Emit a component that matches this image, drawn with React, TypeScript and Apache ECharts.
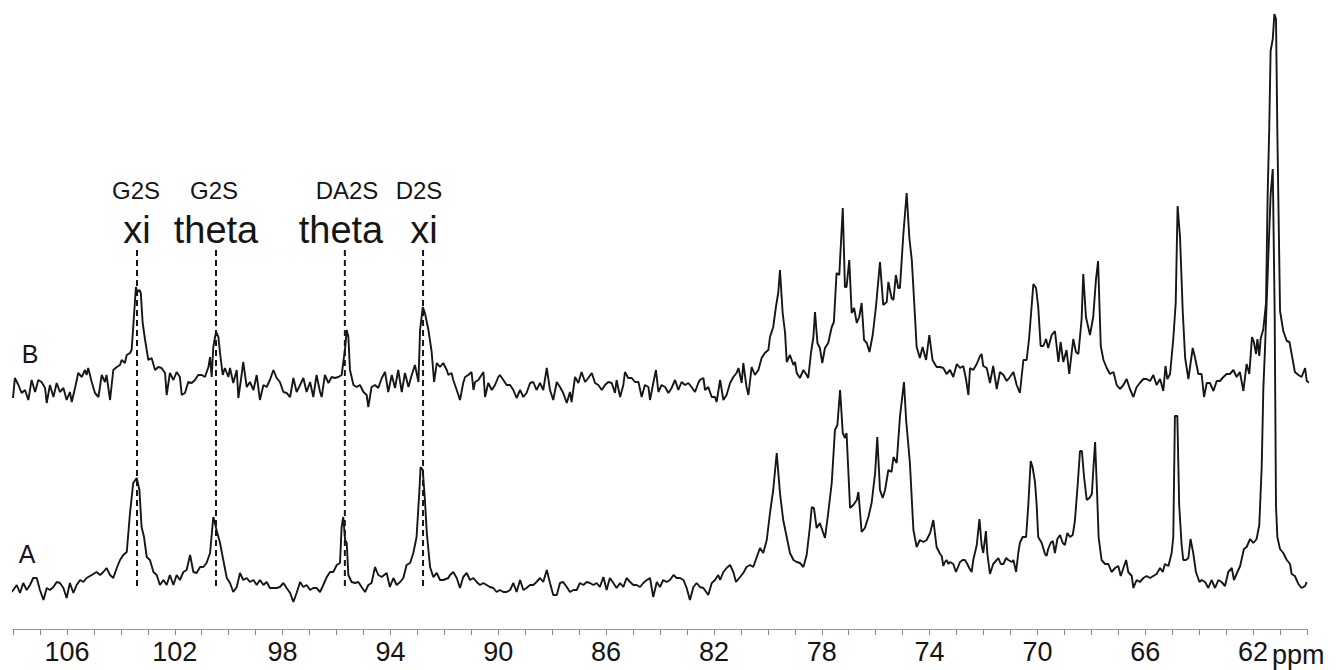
import React, { useEffect, useRef } from 'react';
import * as echarts from 'echarts';

const FONT = "'Liberation Sans', Arial, Helvetica, sans-serif";

// x axis (chemical shift, ppm), reversed
const axisMin = 60;
const axisMax = 108;
const tickLabels = [106, 102, 98, 94, 90, 86, 82, 78, 74, 70, 66, 62];

// Spectrum B (upper trace, stacked above A) : [ppm, intensity]
const traceB: [number, number][] = [
  [108.0,231],[107.93,251],[107.80,244],[107.68,236],[107.555,239],[107.43,229],[107.31,249],[107.18,237],[107.06,249],[106.94,247],[106.81,241],[106.75,226],[106.63,244],[106.50,232],[106.38,246],[106.26,237],[106.13,241],[106.01,229],[105.89,237],[105.82,227],[105.70,241],[105.58,256],[105.45,252],[105.33,259],[105.27,254],[105.21,261],[105.08,247],[104.96,236],[104.83,232],[104.71,254],[104.59,247],[104.53,254],[104.40,229],[104.28,259],[104.15,262],[104.03,264],[103.97,269],[103.85,266],[103.78,274],[103.66,276],[103.60,279],[103.54,302],[103.44,342],[103.39,337],[103.31,339],[103.26,336],[103.19,306],[103.10,289],[102.98,269],[102.86,271],[102.73,259],[102.61,262],[102.49,261],[102.36,256],[102.30,234],[102.18,256],[102.05,249],[101.93,257],[101.81,252],[101.74,234],[101.62,236],[101.50,247],[101.37,246],[101.25,249],[101.13,254],[101.00,254],[100.88,252],[100.75,262],[100.69,272],[100.63,252],[100.57,282],[100.47,297],[100.38,292],[100.32,276],[100.22,254],[100.14,261],[100.01,252],[99.95,261],[99.83,246],[99.70,259],[99.64,231],[99.52,254],[99.46,267],[99.33,242],[99.21,247],[99.08,239],[98.96,254],[98.84,229],[98.71,244],[98.59,242],[98.47,249],[98.34,259],[98.22,251],[98.10,247],[97.97,237],[97.85,236],[97.72,232],[97.60,251],[97.48,237],[97.35,244],[97.23,251],[97.11,237],[96.98,247],[96.86,232],[96.74,254],[96.61,237],[96.55,232],[96.43,254],[96.30,246],[96.18,252],[96.06,251],[95.93,252],[95.81,254],[95.75,266],[95.68,281],[95.62,299],[95.56,292],[95.50,259],[95.37,244],[95.25,242],[95.13,244],[95.00,237],[94.88,234],[94.82,222],[94.70,242],[94.57,244],[94.45,241],[94.32,251],[94.20,257],[94.08,237],[93.95,254],[93.83,241],[93.71,259],[93.58,237],[93.46,256],[93.33,242],[93.21,254],[93.09,264],[92.96,247],[92.90,299],[92.80,322],[92.72,316],[92.59,299],[92.47,277],[92.38,247],[92.28,266],[92.16,262],[92.04,266],[91.91,259],
  [91.85,254],[91.73,256],[91.67,249],[91.54,239],[91.42,229],[91.30,246],[91.23,252],[91.11,254],[90.99,257],[90.92,239],[90.86,247],[90.74,249],[90.62,254],[90.55,257],[90.49,232],[90.37,246],[90.24,239],[90.12,244],[90.00,252],[89.94,254],[89.81,249],[89.69,244],[89.56,244],[89.44,239],[89.32,231],[89.19,239],[89.07,232],[88.95,236],[88.82,246],[88.70,247],[88.58,239],[88.45,246],[88.33,239],[88.20,261],[88.08,239],[87.96,229],[87.83,247],[87.71,242],[87.59,236],[87.46,226],[87.34,237],[87.28,227],[87.15,252],[87.03,246],[86.91,257],[86.78,247],[86.66,251],[86.53,256],[86.41,246],[86.29,244],[86.16,239],[86.04,244],[85.92,247],[85.79,246],[85.67,236],[85.61,249],[85.48,232],[85.36,244],[85.30,257],[85.18,251],[85.05,251],[84.93,247],[84.80,247],[84.68,232],[84.56,244],[84.43,242],[84.37,229],[84.25,246],[84.15,259],[84.06,237],[83.94,244],[83.81,242],[83.69,236],[83.57,241],[83.44,249],[83.32,239],[83.20,247],[83.07,244],[82.95,246],[82.83,242],[82.70,237],[82.58,246],
  [82.52,249],[82.39,251],[82.33,239],[82.21,242],[82.08,232],[81.96,232],[81.90,227],[81.77,249],[81.65,229],[81.53,234],[81.40,246],[81.28,252],[81.16,256],[81.09,261],[80.97,246],[80.91,266],[80.79,242],[80.72,234],[80.60,262],[80.48,254],[80.35,259],[80.23,271],[80.11,276],[79.98,279],[79.92,292],[79.80,302],[79.70,322],[79.61,337],[79.55,359],[79.45,316],[79.36,296],[79.30,267],[79.18,274],[79.05,264],[78.99,267],[78.93,256],[78.81,251],[78.68,259],[78.56,254],[78.50,251],[78.40,276],[78.31,292],[78.25,317],[78.16,286],[78.07,281],[77.98,266],[77.88,281],[77.76,286],[77.63,302],[77.55,307],[77.45,356],[77.35,354],[77.22,421],[77.14,342],[77.08,342],[76.98,369],[76.89,316],[76.80,321],[76.70,306],[76.61,312],[76.52,326],[76.43,289],[76.33,286],[76.23,277],[76.11,294],[75.99,322],[75.84,367],[75.72,324],[75.59,327],[75.53,347],[75.41,331],[75.34,329],[75.25,354],[75.16,341],[75.10,341],[74.97,396],[74.85,436],[74.75,391],[74.66,369],[74.54,312],[74.48,282],[74.36,271],[74.26,282],[74.13,269],[74.01,294],[73.89,269],[73.74,262],[73.61,262],
  [73.49,261],[73.37,255],[73.24,259],[73.12,252],[72.99,265],[72.87,261],[72.75,263],[72.65,250],[72.56,234],[72.50,261],[72.38,259],[72.25,265],[72.13,273],[72.07,275],[72.01,263],[71.88,261],[71.76,246],[71.64,263],[71.51,240],[71.39,257],[71.26,254],[71.14,248],[71.02,252],[70.89,257],[70.77,244],[70.65,236],[70.52,269],[70.40,269],[70.31,290],[70.15,345],[70.05,341],[69.97,322],[69.88,283],[69.78,283],[69.68,290],[69.60,281],[69.47,294],[69.35,298],[69.22,267],[69.14,287],[69.04,267],[68.92,279],[68.82,255],[68.67,290],[68.57,277],[68.48,275],[68.36,310],[68.30,355],[68.20,312],[68.05,294],[67.93,312],[67.83,349],[67.75,368],[67.65,283],[67.55,269],[67.43,261],[67.31,255],[67.18,257],[67.06,244],[66.94,240],[66.81,244],[66.69,250],[66.57,240],[66.44,232],[66.32,242],[66.20,246],[66.07,250],[65.95,250],[65.82,248],[65.70,254],[65.58,244],[65.45,250],[65.33,238],[65.25,263],[65.18,250],[65.08,255],[64.96,290],[64.87,326],[64.80,423],[64.71,392],[64.61,318],[64.52,271],[64.40,250],[64.24,281],[64.15,271],[64.03,255],[63.91,255],[63.82,232],[63.72,246],[63.60,246],[63.47,238],[63.35,248],[63.23,248],[63.10,252],[62.98,255],[62.86,255],[62.73,259],[62.61,252],[62.49,257],[62.36,238],[62.24,265],[62.14,255],[62.04,292],[61.97,287],[61.89,275],[61.84,290],[61.77,273],[61.72,290],[61.62,300],[61.52,326],[61.46,434],[61.40,501],[61.35,578],[61.27,590],[61.21,615],[61.15,610],[61.10,497],[61.00,318],[60.88,298],[60.75,288],[60.65,287],[60.57,275],[60.45,257],[60.32,254],[60.20,252],[60.07,261],[60.01,248],[59.89,246]
];

// Spectrum A (lower trace) : [ppm, intensity]
const traceA: [number, number][] = [
  [108.1,36],[107.99,39],[107.86,44],[107.74,36],[107.62,46],[107.49,39],[107.37,44],[107.25,51],[107.12,51],[107.00,39],[106.87,29],[106.75,41],[106.63,39],[106.50,42],[106.38,47],[106.26,46],[106.13,41],[106.01,31],[105.89,46],[105.76,36],[105.64,44],[105.51,49],[105.39,47],[105.27,51],[105.08,54],[104.90,57],[104.77,54],[104.65,57],[104.53,61],[104.40,54],[104.28,51],[104.15,61],[104.03,69],[103.91,74],[103.78,77],[103.66,116],[103.54,146],[103.41,151],[103.31,139],[103.23,102],[103.14,92],[103.04,72],[102.92,69],[102.79,57],[102.67,54],[102.55,44],[102.42,49],[102.30,44],[102.18,54],[102.05,44],[101.93,54],[101.81,49],[101.68,57],[101.56,59],[101.43,74],[101.31,57],[101.19,56],[101.06,62],[100.94,62],[100.82,66],[100.69,76],[100.57,112],[100.51,106],[100.45,99],[100.32,86],[100.20,69],[100.07,51],[99.95,46],[99.83,37],[99.70,42],[99.58,56],[99.46,49],[99.33,51],[99.21,47],[99.08,49],[98.96,44],[98.84,49],[98.71,44],[98.59,47],[98.47,41],[98.34,41],[98.22,41],[98.10,42],[97.97,46],[97.85,41],[97.72,36],[97.60,27],[97.48,36],[97.35,47],[97.23,42],[97.11,44],[96.98,39],[96.86,41],[96.74,41],[96.61,37],[96.49,44],[96.36,52],[96.24,57],[96.12,57],[95.99,64],[95.87,66],[95.81,102],[95.75,112],[95.68,89],[95.62,86],[95.56,54],[95.44,47],[95.31,46],[95.19,47],[95.07,42],[94.94,37],[94.82,44],[94.70,46],[94.57,62],[94.45,54],[94.32,52],[94.14,56],[94.02,42],[93.89,51],[93.77,44],[93.64,47],[93.52,51],[93.40,64],[93.27,66],[93.15,76],[93.03,92],[92.93,136],[92.88,162],[92.80,159],[92.72,129],[92.65,96],[92.53,62],[92.41,52],[92.28,56],[92.16,49],[92.04,49],[91.85,51],
  [91.79,54],[91.67,57],[91.54,51],[91.42,41],[91.30,52],[91.17,56],[91.05,49],[90.92,51],[90.80,47],[90.68,44],[90.55,46],[90.43,44],[90.31,42],[90.18,41],[90.06,37],[89.94,39],[89.81,37],[89.69,37],[89.56,39],[89.44,46],[89.32,37],[89.19,49],[89.07,39],[88.95,41],[88.82,44],[88.70,44],[88.58,47],[88.45,51],[88.33,47],[88.20,59],[88.08,46],[87.96,34],[87.83,34],[87.71,46],[87.59,47],[87.46,42],[87.34,37],[87.21,39],[87.09,39],[86.97,46],[86.84,44],[86.72,47],[86.60,46],[86.47,44],[86.35,46],[86.23,42],[86.10,52],[85.98,39],[85.86,51],[85.73,46],[85.61,41],[85.48,46],[85.36,42],[85.24,51],[85.11,47],[84.99,44],[84.87,44],[84.74,42],[84.62,46],[84.49,49],[84.37,51],[84.25,32],[84.12,47],[84.00,42],[83.88,49],[83.75,47],[83.63,49],[83.50,54],[83.38,51],[83.26,51],[83.13,49],[83.01,41],[82.89,29],[82.76,42],[82.64,46],
  [82.52,42],[82.39,41],[82.21,34],[82.08,46],[81.96,49],[81.84,54],[81.77,49],[81.65,57],[81.53,61],[81.40,64],[81.28,57],[81.18,47],[81.03,52],[80.91,56],[80.79,62],[80.66,64],[80.54,62],[80.41,72],[80.29,81],[80.17,76],[80.04,89],[79.92,116],[79.80,139],[79.67,176],[79.55,136],[79.43,109],[79.30,92],[79.18,76],[79.05,69],[78.93,67],[78.81,66],[78.68,62],[78.56,74],[78.44,102],[78.37,122],[78.29,121],[78.19,101],[78.07,106],[77.88,91],[77.76,116],[77.63,146],[77.51,199],[77.42,204],[77.32,239],[77.22,196],[77.14,191],[77.08,196],[76.95,121],[76.83,124],[76.70,129],[76.64,137],[76.52,97],[76.40,101],[76.27,112],[76.15,126],[76.02,156],[75.94,192],[75.84,139],[75.74,131],[75.65,139],[75.53,159],[75.41,157],[75.34,172],[75.22,166],[75.10,212],[74.95,247],[74.87,209],[74.73,166],[74.60,99],[74.48,82],[74.36,89],[74.23,87],[74.11,89],[73.98,96],[73.86,109],[73.74,82],[73.61,75],
  [73.55,73],[73.49,63],[73.43,67],[73.37,69],[73.30,65],[73.24,67],[73.12,65],[73.02,57],[72.93,63],[72.87,67],[72.77,69],[72.69,69],[72.60,65],[72.53,61],[72.44,57],[72.38,69],[72.25,84],[72.15,110],[72.07,84],[72.01,76],[71.91,98],[71.86,76],[71.76,55],[71.64,65],[71.51,69],[71.45,71],[71.36,65],[71.26,65],[71.16,71],[71.08,69],[70.95,67],[70.89,69],[70.79,57],[70.71,76],[70.65,86],[70.55,92],[70.42,92],[70.34,123],[70.25,168],[70.18,162],[70.09,147],[70.03,125],[69.97,92],[69.84,86],[69.72,75],[69.66,73],[69.60,80],[69.51,86],[69.43,88],[69.35,76],[69.26,90],[69.16,94],[69.06,86],[68.98,84],[68.89,96],[68.79,92],[68.69,94],[68.61,108],[68.51,143],[68.42,178],[68.35,178],[68.27,152],[68.17,129],[68.07,131],[67.98,135],[67.93,158],[67.86,187],[67.78,131],[67.73,92],[67.62,69],[67.49,65],[67.37,65],[67.25,57],[67.12,61],[67.00,63],[66.91,53],[66.81,61],[66.71,69],[66.63,57],[66.50,53],[66.44,41],[66.32,49],[66.20,47],[66.07,51],[65.95,53],[65.82,51],[65.70,53],[65.58,55],[65.45,61],[65.35,57],[65.27,65],[65.14,63],[65.02,76],[64.96,92],[64.90,213],[64.81,213],[64.74,123],[64.65,84],[64.59,69],[64.49,69],[64.40,71],[64.32,90],[64.22,76],[64.12,57],[63.99,47],[63.91,49],[63.78,47],[63.66,41],[63.54,49],[63.41,41],[63.29,49],[63.17,47],[63.04,43],[62.92,57],[62.79,61],[62.71,49],[62.58,57],[62.48,63],[62.34,80],[62.24,82],[62.11,90],[61.99,86],[61.87,90],[61.77,104],[61.68,162],[61.62,240],[61.56,279],[61.43,376],[61.35,434],[61.27,460],[61.20,318],[61.15,123],[61.10,92],[61.00,80],[60.88,76],[60.75,69],[60.63,65],[60.57,55],[60.45,53],[60.32,45],[60.20,41],[60.07,43],[60.01,47]
];

// Assigned peaks (dashed guide lines)
const peakPpm = [103.4, 100.47, 95.69, 92.79];
const peakNucleus = ['G2S', 'G2S', 'DA2S', 'D2S'];
const peakForm = ['xi', 'theta', 'theta', 'xi'];
const guideTop = 379;
const guideBottom = 41;

// Spectrum names
const traceNames = ['B', 'A'];

export default function App() {
  const ref = useRef<HTMLDivElement>(null);

  useEffect(() => {
    if (!ref.current) return;
    const chart = echarts.init(ref.current, undefined, { renderer: 'svg' });

    const nucleusX = [136, 214, 347, 419];
    const formX = [137, 216, 341, 424];
    const nameY = [354, 554];
    const nameX = [30, 27];

    const graphics: any[] = [];
    peakNucleus.forEach((t, i) => {
      graphics.push({
        type: 'text', x: nucleusX[i], y: 190, silent: true,
        style: { text: t, fontSize: 24, fontFamily: FONT, fill: '#151515', align: 'center', verticalAlign: 'middle' },
      });
    });
    peakForm.forEach((t, i) => {
      graphics.push({
        type: 'text', x: formX[i], y: 230, silent: true,
        style: { text: t, fontSize: 38, fontFamily: FONT, fill: '#151515', align: 'center', verticalAlign: 'middle' },
      });
    });
    traceNames.forEach((t, i) => {
      graphics.push({
        type: 'text', x: nameX[i], y: nameY[i], silent: true,
        style: { text: t, fontSize: 25, fontFamily: FONT, fill: '#151515', align: 'center', verticalAlign: 'middle' },
      });
    });
    graphics.push({
      type: 'text', x: 1272, y: 655, silent: true,
      style: { text: 'ppm', fontSize: 27, fontFamily: FONT, fill: '#151515', align: 'left', verticalAlign: 'middle' },
    });

    const traceStyle = { color: '#161616', width: 1.9 };

    const series: any[] = [
      { name: 'B', type: 'line', data: traceB, symbol: 'none', showSymbol: false, clip: false, lineStyle: traceStyle, z: 3 },
      { name: 'A', type: 'line', data: traceA, symbol: 'none', showSymbol: false, clip: false, lineStyle: traceStyle, z: 3 },
    ];
    peakPpm.forEach((p, i) => {
      series.push({
        name: 'guide' + i, type: 'line', data: [[p, guideTop], [p, guideBottom]],
        symbol: 'none', showSymbol: false, clip: false, z: 2,
        lineStyle: { color: '#161616', width: 2, type: [6, 4] },
      });
    });

    chart.setOption({
      animation: false,
      backgroundColor: '#ffffff',
      grid: { left: 13, right: 31, top: 9, bottom: 41, containLabel: false },
      xAxis: {
        type: 'value', inverse: true, min: axisMin, max: axisMax, interval: 1,
        axisLine: { show: true, onZero: false, lineStyle: { color: '#9a9a9a', width: 1 } },
        axisTick: { show: true, length: 6, lineStyle: { color: '#8a8a8a', width: 1 } },
        axisLabel: {
          margin: 9, fontSize: 27, fontFamily: FONT, color: '#151515',
          formatter: (v: number) => (tickLabels.indexOf(Math.round(v)) >= 0 ? String(Math.round(v)) : ''),
        },
        splitLine: { show: false },
      },
      yAxis: { type: 'value', min: 0, max: 620, show: false },
      graphic: graphics,
      series,
    });

    return () => chart.dispose();
  }, []);

  return (
    <div
      ref={ref}
      style={{ position: 'fixed', left: 0, top: 0, width: 1338, height: 670, background: '#fff' }}
    />
  );
}
